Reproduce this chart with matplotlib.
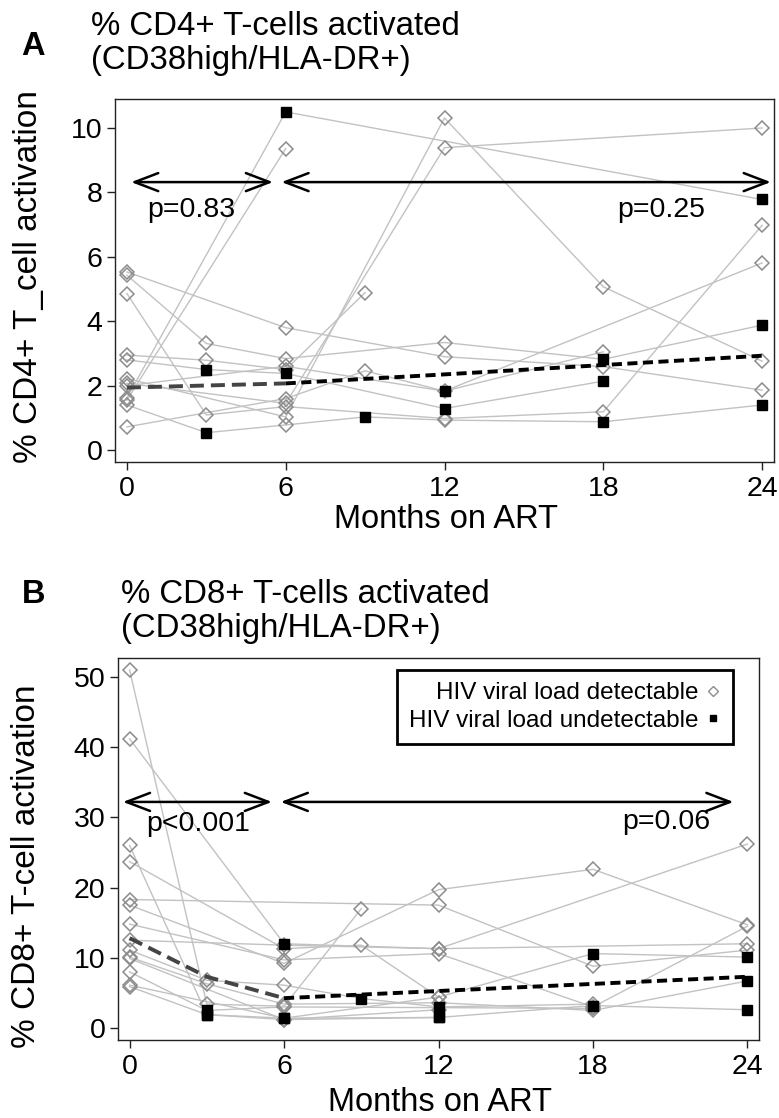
import matplotlib
matplotlib.use('Agg')
import matplotlib.pyplot as plt
from matplotlib.lines import Line2D

plt.rcParams['font.family'] = ['Liberation Sans', 'DejaVu Sans']

# ---- CD4 data: one entry per subject (months on ART, % activated, VL detectable 1/0)
cd4_months = [
    [0, 6, 12, 18, 24],
    [0, 3, 6, 12, 18, 24],
    [0, 3, 6, 12, 18, 24],
    [0, 6, 24],
    [0, 6],
    [0, 3, 6, 9],
    [0, 3, 6, 12, 18],
    [0, 6, 12, 18, 24],
    [0, 6, 12, 24],
    [0, 3, 6, 9, 12, 18, 24],
    [0, 6, 9, 12, 24],
    [0, 6, 12, 18],
]
cd4_values = [
    [5.53, 3.80, 2.90, 2.59, 1.86],
    [5.43, 3.31, 2.84, 3.34, 2.82, 3.88],
    [4.86, 1.09, 1.35, 0.98, 1.19, 6.98],
    [1.62, 10.5, 7.78],
    [1.55, 9.36],
    [2.95, 2.79, 2.50, 4.89],
    [2.80, 2.50, 2.38, 1.29, 2.14],
    [2.22, 1.03, 10.31, 5.07, 2.76],
    [2.07, 1.45, 9.39, 10.0],
    [1.40, 0.54, 0.78, 1.03, 0.93, 0.88, 1.40],
    [0.72, 1.60, 2.46, 1.83, 5.81],
    [2.00, 2.60, 1.83, 3.05],
]
cd4_detect = [
    [1, 1, 1, 1, 1],
    [1, 1, 1, 1, 0, 0],
    [1, 1, 1, 1, 1, 1],
    [1, 0, 0],
    [1, 1],
    [1, 1, 1, 1],
    [1, 0, 0, 0, 0],
    [1, 1, 1, 1, 1],
    [1, 1, 1, 1],
    [1, 0, 1, 0, 1, 0, 0],
    [1, 1, 1, 0, 1],
    [1, 1, 1, 1],
]
cd4_mean_early = ([0, 6], [1.94, 2.07])
cd4_mean_late = ([6, 12, 18, 24], [2.07, 2.35, 2.64, 2.93])

# ---- CD8 data
cd8_months = [
    [0, 3, 6, 9],
    [0, 6, 12, 24],
    [0, 3, 6, 12],
    [0, 6, 9, 12, 18, 24],
    [0, 12, 18, 24],
    [0, 6, 12, 18, 24],
    [0, 6, 12, 18, 24],
    [0, 6, 12, 24],
    [0, 3, 6, 9, 12, 18],
    [0, 3, 6, 12, 18, 24],
    [0, 6, 12],
    [0, 3, 6, 18],
    [0, 6, 12],
    [0, 3, 6, 12, 18, 24],
]
cd8_values = [
    [51.0, 3.4, 3.1, 17.0],
    [41.2, 12.0, 11.3, 26.2],
    [26.0, 1.9, 1.4, 1.5],
    [23.7, 11.3, 11.8, 4.4, 10.6, 10.1],
    [18.3, 17.5, 8.8, 11.1],
    [17.5, 9.2, 19.7, 22.6, 14.7],
    [14.8, 9.7, 10.6, 3.0, 14.5],
    [12.5, 11.8, 11.3, 12.0],
    [11.1, 6.8, 6.1, 4.2, 3.0, 3.4],
    [10.1, 6.3, 3.4, 3.6, 2.5, 6.7],
    [9.9, 1.2, 2.6],
    [8.0, 2.5, 3.0, 2.8],
    [6.1, 1.4, 4.4],
    [5.9, 1.9, 1.2, 1.5, 3.2, 2.6],
]
cd8_detect = [
    [1, 1, 1, 1],
    [1, 0, 1, 1],
    [1, 0, 0, 0],
    [1, 1, 1, 1, 0, 0],
    [1, 1, 1, 1],
    [1, 1, 1, 1, 1],
    [1, 1, 1, 1, 1],
    [1, 1, 1, 1],
    [1, 1, 1, 0, 0, 1],
    [1, 1, 1, 1, 1, 0],
    [1, 1, 1],
    [1, 0, 1, 1],
    [1, 0, 1],
    [1, 0, 1, 0, 0, 0],
]
cd8_mean_early = ([0, 3, 6], [12.8, 7.3, 4.25])
cd8_mean_late = ([6, 12, 18, 24], [4.25, 5.27, 6.28, 7.3])

month_ticks = [0, 6, 12, 18, 24]

W, H = 779, 1118
fig = plt.figure(figsize=(W / 100, H / 100), dpi=100)


def fx(x):
    return x / W


def fy(y):
    return 1 - y / H


def spaghetti(ax, months, values, detect, mean_early, mean_late):
    for m, v in zip(months, values):
        ax.plot(m, v, color='#c2c2c2', lw=1.0, zorder=1)
    for m, v, d in zip(months, values, detect):
        dm = [a for a, f in zip(m, d) if f]
        dv = [b for b, f in zip(v, d) if f]
        um = [a for a, f in zip(m, d) if not f]
        uv = [b for b, f in zip(v, d) if not f]
        ax.plot(dm, dv, ls='none', marker='D', ms=6.8, mfc='none',
                mec='#8c8c8c', mew=1.1, zorder=2)
        ax.plot(um, uv, ls='none', marker='s', ms=7.0, color='black', zorder=3)
    ax.plot(*mean_early, color='#444444', lw=2.8, ls=(0, (3.6, 1.8)), zorder=4)
    ax.plot(*mean_late, color='black', lw=2.8, ls=(0, (2.6, 1.4)), zorder=4)


def style(ax, ylim, yticks):
    ax.set_xlim(-0.45, 24.45)
    ax.set_ylim(*ylim)
    ax.set_xticks(month_ticks)
    ax.set_yticks(yticks)
    for s in ax.spines.values():
        s.set_linewidth(1.0)
        s.set_color('#222222')
    ax.tick_params(direction='out', length=6, width=1.0, labelsize=20.5,
                   colors='#222222', labelcolor='black')
    ax.tick_params(axis='x', pad=4)
    ax.tick_params(axis='y', pad=3)


def span_arrow(ax, x0, x1, y):
    ax.annotate('', xy=(x1, y), xytext=(x0, y),
                arrowprops=dict(arrowstyle='<->,head_length=1.7,head_width=0.65',
                                lw=1.8, color='black', shrinkA=0, shrinkB=0,
                                mutation_scale=10),
                zorder=5)


# ---- Panel A
axA = fig.add_axes([fx(115), fy(462), (774 - 115) / W, (462 - 99) / H])
spaghetti(axA, cd4_months, cd4_values, cd4_detect, cd4_mean_early, cd4_mean_late)
style(axA, (-0.37, 10.9), [0, 2, 4, 6, 8, 10])
span_arrow(axA, 0.16, 5.52, 8.32)
span_arrow(axA, 5.84, 24.33, 8.32)
axA.text(0.75, 7.24, 'p=0.83', fontsize=20.5, va='baseline')
axA.text(18.53, 7.24, 'p=0.25', fontsize=20.5, va='baseline')

fig.text(fx(21), fy(55), 'A', fontsize=23.5, fontweight='bold', va='baseline')
fig.text(fx(91), fy(35), '% CD4+ T-cells activated', fontsize=23.8, va='baseline')
fig.text(fx(91), fy(69), '(CD38high/HLA-DR+)', fontsize=23.8, va='baseline')
fig.text(fx(446), fy(528), 'Months on ART', fontsize=23.5, ha='center', va='baseline')
fig.text(fx(29), fy(277), '% CD4+ T_cell activation', fontsize=24, rotation=90,
         ha='center', va='center')

# ---- Panel B
axB = fig.add_axes([fx(118), fy(1040), (759 - 118) / W, (1040 - 658) / H])
spaghetti(axB, cd8_months, cd8_values, cd8_detect, cd8_mean_early, cd8_mean_late)
style(axB, (-1.71, 52.7), [0, 10, 20, 30, 40, 50])
span_arrow(axB, -0.26, 5.53, 32.2)
span_arrow(axB, 5.87, 23.46, 32.2)
axB.text(0.64, 28.0, 'p<0.001', fontsize=20.5, va='baseline')
axB.text(19.12, 28.3, 'p=0.06', fontsize=20.5, va='baseline')

handles = [
    Line2D([], [], ls='none', marker='D', ms=4.8, mfc='none', mec='#8c8c8c', mew=1.0),
    Line2D([], [], ls='none', marker='s', ms=4.8, color='black'),
]
leg = axB.legend(handles, ['HIV viral load detectable', 'HIV viral load undetectable'],
                 loc='upper right', bbox_to_anchor=(0.959, 0.968), borderaxespad=0,
                 markerfirst=False, fontsize=17.5, handlelength=0.6, handletextpad=0.3,
                 borderpad=0.5, labelspacing=0.22, fancybox=False, framealpha=1,
                 edgecolor='black')
leg.get_frame().set_linewidth(2.0)

fig.text(fx(22), fy(603), 'B', fontsize=23.5, fontweight='bold', va='baseline')
fig.text(fx(121), fy(603), '% CD8+ T-cells activated', fontsize=23.8, va='baseline')
fig.text(fx(121), fy(637), '(CD38high/HLA-DR+)', fontsize=23.8, va='baseline')
fig.text(fx(440), fy(1111), 'Months on ART', fontsize=23.5, ha='center', va='baseline')
fig.text(fx(27), fy(866), '% CD8+ T-cell activation', fontsize=24, rotation=90,
         ha='center', va='center')

fig.savefig('out.png', dpi=100)
